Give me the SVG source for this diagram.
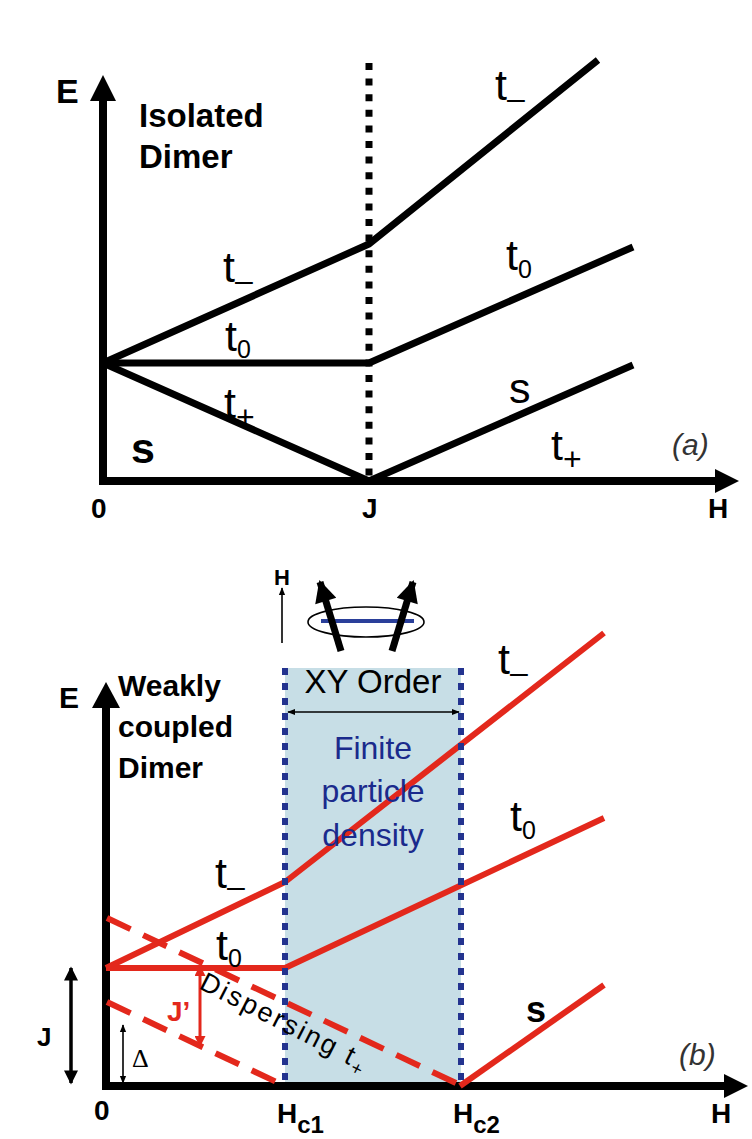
<svg xmlns="http://www.w3.org/2000/svg" width="752" height="1139" viewBox="0 0 752 1139">
<style>
text{font-family:"Liberation Sans",Arial,sans-serif;fill:#000}
.b{font-weight:bold}
.lbl{font-size:43px}
.sub{font-size:25px}
.ax{stroke:#000;stroke-width:8;fill:none}
.lv{stroke:#000;stroke-width:7;fill:none;stroke-linecap:butt}
.rd{stroke:#e3281c;stroke-width:6;fill:none}
.rdd{stroke:#e3281c;stroke-width:6;fill:none;stroke-dasharray:26 14}
.dot{stroke:#000;stroke-width:7;stroke-dasharray:7 8.6;fill:none}
.bdot{stroke:#23338f;stroke-width:6;stroke-dasharray:7 8;fill:none}
.thin{stroke:#000;stroke-width:1.6;fill:none}
.it{font-style:italic;font-size:30px;fill:#333}
</style>
<defs>
<marker id="ah" viewBox="0 0 10 10" refX="9" refY="5" markerWidth="8" markerHeight="8" orient="auto-start-reverse" markerUnits="userSpaceOnUse">
<path d="M0,1 L10,5 L0,9 z" fill="#000"/>
</marker>
<marker id="ahJ" viewBox="0 0 10 10" refX="9" refY="5" markerWidth="16" markerHeight="14" orient="auto-start-reverse" markerUnits="userSpaceOnUse">
<path d="M0,0 L10,5 L0,10 z" fill="#000"/>
</marker>
<marker id="ahR" viewBox="0 0 10 10" refX="9" refY="5" markerWidth="12" markerHeight="11" orient="auto-start-reverse" markerUnits="userSpaceOnUse">
<path d="M0,0 L10,5 L0,10 z" fill="#e3281c"/>
</marker>
<marker id="ahS" viewBox="0 0 10 10" refX="9" refY="5" markerWidth="24" markerHeight="22" orient="auto" markerUnits="userSpaceOnUse">
<path d="M0,0 L10,5 L0,10 z" fill="#000"/>
</marker>
</defs>

<!-- ================= Panel (a) ================= -->
<g id="panel-a">
  <g id="a-axes">
    <line class="ax" x1="103" y1="481" x2="103" y2="98"/>
    <polygon points="103,75 90,101 116,101" fill="#000"/>
    <line class="ax" x1="99" y1="481" x2="718" y2="481"/>
    <polygon points="739,481 715,469 715,493" fill="#000"/>
    <line class="dot" x1="369" y1="63" x2="369" y2="478"/>
  </g>
  <g id="a-levels">
    <polyline class="lv" points="103,363 369,244 598,60" stroke-linejoin="round"/>
    <polyline class="lv" points="103,363 369,363 633,247" stroke-linejoin="round"/>
    <polyline class="lv" points="103,363 369,481 633,365" stroke-linejoin="round"/>
  </g>
  <g id="a-labels">
    <text class="b" x="56" y="103" font-size="34">E</text>
    <text class="b" x="139" y="127" font-size="33">Isolated</text>
    <text class="b" x="139" y="168" font-size="33">Dimer</text>
    <text class="b" x="91" y="518" font-size="28">0</text>
    <text class="b" x="362" y="518" font-size="28">J</text>
    <text class="b" x="708" y="518" font-size="28">H</text>
    <text class="lbl" x="223" y="282">t<tspan font-size="32" dy="9">–</tspan></text>
    <text class="lbl" x="225" y="351">t<tspan class="sub" dy="7">0</tspan></text>
    <text class="lbl" x="224" y="418">t<tspan font-size="32" dy="10">+</tspan></text>
    <text class="lbl b" x="131" y="463">s</text>
    <text class="lbl" x="495" y="100">t<tspan font-size="32" dy="9">–</tspan></text>
    <text class="lbl" x="506" y="270">t<tspan class="sub" dy="8">0</tspan></text>
    <text class="lbl" x="509" y="403">s</text>
    <text class="lbl" x="551" y="460">t<tspan font-size="32" dy="10">+</tspan></text>
    <text class="it" x="672" y="455">(a)</text>
  </g>
</g>

<!-- ================= Panel (b) ================= -->
<g id="panel-b">
  <g id="xy-region">
    <rect x="285" y="668" width="176" height="418" fill="#c7dee6"/>
  </g>
  <g id="spin-icon">
    <line class="thin" x1="282" y1="643" x2="282" y2="588" marker-end="url(#ah)"/>
    <text class="b" x="274" y="585" font-size="22">H</text>
    <ellipse cx="366" cy="622" rx="58" ry="15" fill="none" stroke="#000" stroke-width="1.6"/>
    <line x1="321" y1="621" x2="414" y2="621" stroke="#2a3f9a" stroke-width="4"/>
    <line x1="341" y1="651" x2="320" y2="582" stroke="#000" stroke-width="7" marker-end="url(#ahS)"/>
    <line x1="392" y1="651" x2="413" y2="582" stroke="#000" stroke-width="7" marker-end="url(#ahS)"/>
  </g>
  <g id="b-axes">
    <line class="ax" x1="106" y1="1086" x2="106" y2="705"/>
    <polygon points="106,682 92,708 120,708" fill="#000"/>
    <line class="ax" x1="102" y1="1086" x2="727" y2="1086"/>
    <polygon points="748,1086 724,1074 724,1098" fill="#000"/>
  </g>
  <g id="connectors">
    <line class="rdd" x1="107" y1="918" x2="460" y2="1085"/>
    <line class="rdd" x1="107" y1="1002" x2="285" y2="1086"/>
    <polyline class="rd" points="106,968 285,882 604,633" stroke-linejoin="round"/>
    <polyline class="rd" points="106,968 285,968 604,818" stroke-linejoin="round"/>
    <line class="rd" x1="460" y1="1086" x2="604" y2="985"/>
    <line x1="200" y1="966" x2="200" y2="1046" stroke="#e3281c" stroke-width="3" marker-start="url(#ahR)" marker-end="url(#ahR)"/>
    <line x1="71" y1="968" x2="71" y2="1083" stroke="#000" stroke-width="3.5" marker-start="url(#ahJ)" marker-end="url(#ahJ)"/>
    <line class="thin" x1="123" y1="1025" x2="123" y2="1083" marker-start="url(#ah)" marker-end="url(#ah)"/>
    <line class="thin" x1="288" y1="712" x2="459" y2="712" marker-start="url(#ah)" marker-end="url(#ah)"/>
  </g>
  <g id="phase-bounds">
    <line class="bdot" x1="285" y1="668" x2="285" y2="1086"/>
    <line class="bdot" x1="461" y1="668" x2="461" y2="1086"/>
  </g>
  <g id="b-labels">
    <text class="b" x="59" y="708" font-size="30">E</text>
    <text class="b" x="118" y="696" font-size="30">Weakly</text>
    <text class="b" x="118" y="737" font-size="30">coupled</text>
    <text class="b" x="118" y="778" font-size="30">Dimer</text>
    <text x="373" y="693" font-size="33" text-anchor="middle">XY Order</text>
    <g id="finite-label" font-size="32" text-anchor="middle">
      <text x="373" y="759" style="fill:#1a2a8c">Finite</text>
      <text x="373" y="802" style="fill:#1a2a8c">particle</text>
      <text x="373" y="846" style="fill:#1a2a8c">density</text>
    </g>
    <text class="lbl" x="215" y="888">t<tspan font-size="32" dy="9">–</tspan></text>
    <text class="lbl" x="216" y="960">t<tspan class="sub" dy="7">0</tspan></text>
    <text class="lbl" x="498" y="674">t<tspan font-size="32" dy="9">–</tspan></text>
    <text class="lbl" x="510" y="831">t<tspan class="sub" dy="8">0</tspan></text>
    <text class="b" x="526" y="1022" font-size="36">s</text>
    <text class="b" x="167" y="1021" font-size="28" style="fill:#e3281c">J’</text>
    <text x="132" y="1067" font-size="26" style="font-family:'Liberation Serif',serif">Δ</text>
    <text class="b" x="37" y="1046" font-size="26">J</text>
    <text x="198" y="988" font-size="27" letter-spacing="2.5" transform="rotate(27 198 988)">Dispersing t<tspan font-size="19" dy="6">+</tspan></text>
    <text class="it" x="679" y="1065">(b)</text>
    <text class="b" x="94" y="1120" font-size="28">0</text>
    <text class="b" x="277" y="1123" font-size="28">H<tspan font-size="24" dy="10">c1</tspan></text>
    <text class="b" x="453" y="1123" font-size="28">H<tspan font-size="24" dy="10">c2</tspan></text>
    <text class="b" x="711" y="1123" font-size="28">H</text>
  </g>
</g>
</svg>
